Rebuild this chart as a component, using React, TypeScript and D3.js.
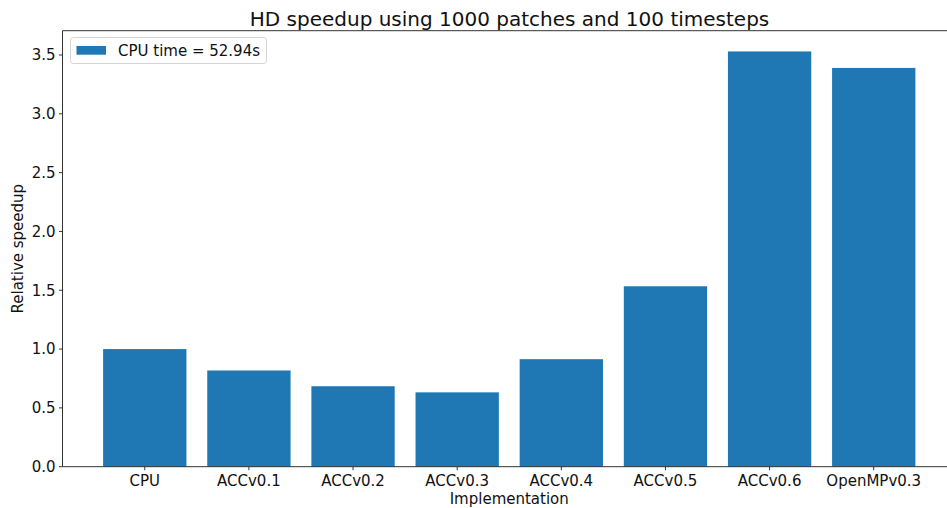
import React from "react";
import * as d3 from "d3";

const categories = ["CPU", "ACCv0.1", "ACCv0.2", "ACCv0.3", "ACCv0.4", "ACCv0.5", "ACCv0.6", "OpenMPv0.3"];
const speedups = [1.0, 0.818, 0.684, 0.632, 0.914, 1.534, 3.53, 3.39];
const yTicks = [0, 0.5, 1.0, 1.5, 2.0, 2.5, 3.0, 3.5];
const legendLabel = "CPU time = 52.94s";
const title = "HD speedup using 1000 patches and 100 timesteps";
const xLabel = "Implementation";
const yLabel = "Relative speedup";

const W = 947;
const H = 508;
const left = 62.5;
const right = 956;
const top = 30.7;
const bottom = 466.7;
const font = "DejaVu Sans, sans-serif";
const color = "#1f77b4";

export default function App() {
  const x = d3.scaleLinear().domain([-0.79, categories.length - 1 + 0.79]).range([left, right]);
  const yMax = d3.max(speedups)! * 1.05;
  const y = d3.scaleLinear().domain([0, yMax]).range([bottom, top]);
  const bw = x(0.8) - x(0);

  return (
    <svg width={W} height={H} style={{ position: "absolute", left: 0, top: 0 }} fontFamily={font}>
      <rect x={0} y={0} width={W} height={H} fill="white" />
      {speedups.map((v, i) => (
        <rect key={i} x={x(i) - bw / 2} y={y(v)} width={bw} height={y(0) - y(v)} fill={color} />
      ))}
      {/* spines */}
      <line x1={left} x2={left} y1={top} y2={bottom} stroke="#333" strokeWidth={1} />
      <line x1={left} x2={right} y1={bottom} y2={bottom} stroke="#333" strokeWidth={1} />
      <line x1={left} x2={right} y1={top} y2={top} stroke="#333" strokeWidth={1} />
      <line x1={right} x2={right} y1={top} y2={bottom} stroke="#333" strokeWidth={1} />
      {yTicks.map((t) => (
        <g key={t}>
          <line x1={left - 3.5} x2={left} y1={y(t)} y2={y(t)} stroke="#333" />
          <text x={left - 7} y={y(t)} dy="0.35em" textAnchor="end" fontSize={15} fill="#111">
            {t.toFixed(1)}
          </text>
        </g>
      ))}
      {categories.map((c, i) => (
        <g key={c}>
          <line x1={x(i)} x2={x(i)} y1={bottom} y2={bottom + 3.5} stroke="#333" />
          <text x={x(i)} y={bottom + 19} textAnchor="middle" fontSize={15} fill="#111">
            {c}
          </text>
        </g>
      ))}
      <text x={(left + right) / 2} y={504} textAnchor="middle" fontSize={15} fill="#111">
        {xLabel}
      </text>
      <text transform={`translate(23,${(top + bottom) / 2}) rotate(-90)`} textAnchor="middle" fontSize={15} fill="#111">
        {yLabel}
      </text>
      <text x={509.5} y={25.5} textAnchor="middle" fontSize={20} fill="#111">
        {title}
      </text>
      {/* legend */}
      <rect x={70.5} y={37.5} width={196} height={26} rx={3} fill="white" fillOpacity={0.8} stroke="#d5d5d5" />
      <rect x={76.5} y={46} width={29.5} height={8.7} fill={color} />
      <text x={118} y={50.5} dy="0.35em" fontSize={15} fill="#111">
        {legendLabel}
      </text>
    </svg>
  );
}
